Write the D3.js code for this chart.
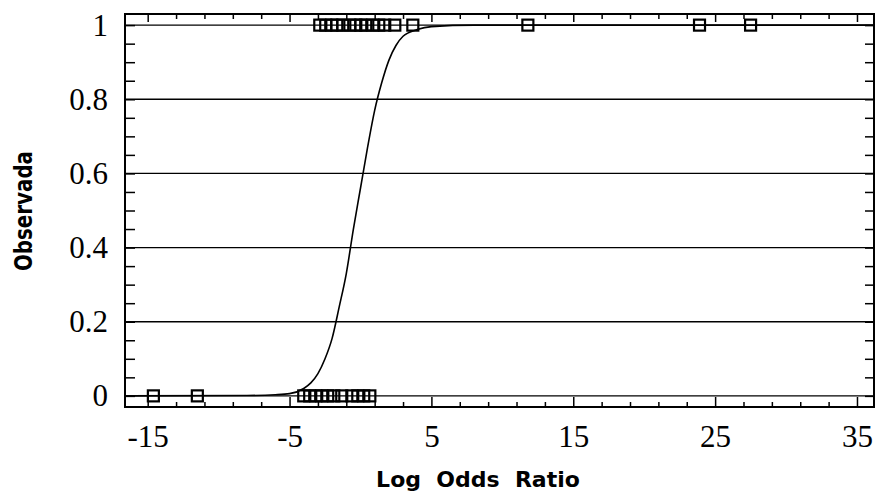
<!DOCTYPE html>
<html>
<head>
  <meta charset="utf-8" />
  <style>
    body { margin: 0; background: #ffffff; }
    svg { display: block; }
  </style>
  <script src="https://cdnjs.cloudflare.com/ajax/libs/d3/7.8.5/d3.min.js"></script>
</head>
<body>
  <div id="chart"></div>
  <script>
    // observed points (log odds ratio, 0/1 outcome)
    var obsOne = [-2.87, -2.45, -2.02, -1.67, -1.25, -0.75, -0.33, 0.02, 0.37, 0.87, 1.29, 1.71, 2.42, 3.69, 11.8, 23.9, 27.5];
    var obsZero = [-14.6, -11.5, -4.0, -3.58, -3.15, -2.73, -2.31, -1.88, -1.32, -0.61, -0.19, 0.23, 0.66];

    // fitted curve
    var curveX = [-16.6, -8, -6, -5, -4, -3.5, -3, -2.5, -2, -1.5, -1, -0.5, 0, 0.5, 1, 1.5, 2, 2.5, 3, 4, 5, 8, 36.2];
    var curveY = [0, 0.001, 0.003, 0.006, 0.02, 0.035, 0.06, 0.1, 0.155, 0.24, 0.33, 0.45, 0.56, 0.67, 0.77, 0.845, 0.905, 0.945, 0.97, 0.988, 0.996, 1, 1];

    var xMajor = [-15, -5, 5, 15, 25, 35];
    var yMajor = [0, 0.2, 0.4, 0.6, 0.8, 1];

    var W = 876, H = 496;
    var pL = 125, pR = 874, pT = 14, pB = 407;

    var x = d3.scaleLinear().domain([-16.6, 36.2]).range([pL, pR]);
    var y = d3.scaleLinear().domain([-0.03, 1.03]).range([pB, pT]);

    var xMinor = d3.range(-15, 36, 2).filter(function (d) { return xMajor.indexOf(d) < 0; });
    var yMinor = d3.range(0, 1.001, 0.05).map(function (d) { return +d.toFixed(2); });

    var svg = d3.select("#chart").append("svg")
      .attr("width", W)
      .attr("height", H);

    // gridlines
    svg.append("g")
      .selectAll("line")
      .data(yMajor)
      .enter()
      .append("line")
      .attr("x1", pL)
      .attr("x2", pR)
      .attr("y1", function (d) { return y(d); })
      .attr("y2", function (d) { return y(d); })
      .attr("stroke", "#000")
      .attr("stroke-width", 1.3);

    // frame
    svg.append("rect")
      .attr("x", pL)
      .attr("y", pT)
      .attr("width", pR - pL)
      .attr("height", pB - pT)
      .attr("fill", "none")
      .attr("stroke", "#000")
      .attr("stroke-width", 2);

    // ticks on all four sides
    function ticks(axis, pos) {
      var g = svg.append("g").attr("transform", pos).call(axis);
      g.select(".domain").remove();
      g.selectAll("line").attr("stroke", "#000").attr("stroke-width", 1.5);
      return g;
    }
    ticks(d3.axisTop(x).tickValues(xMajor).tickSize(10).tickFormat(""), "translate(0," + pB + ")");
    ticks(d3.axisTop(x).tickValues(xMinor).tickSize(5).tickFormat(""), "translate(0," + pB + ")");
    ticks(d3.axisBottom(x).tickValues(xMajor).tickSize(8).tickFormat(""), "translate(0," + pT + ")");
    ticks(d3.axisBottom(x).tickValues(xMinor).tickSize(5).tickFormat(""), "translate(0," + pT + ")");
    ticks(d3.axisRight(y).tickValues(yMinor).tickSize(10).tickFormat(""), "translate(" + pL + ",0)");
    ticks(d3.axisLeft(y).tickValues(yMinor).tickSize(9).tickFormat(""), "translate(" + pR + ",0)");

    // tick labels
    var xl = svg.append("g")
      .attr("transform", "translate(0," + pB + ")")
      .call(d3.axisBottom(x).tickValues(xMajor).tickSize(0).tickPadding(18).tickFormat(d3.format("d")));
    xl.select(".domain").remove();
    xl.selectAll("text")
      .attr("font-family", "'Liberation Serif', serif")
      .attr("font-size", "31px")
      .attr("fill", "#000")
      .text(function (d) { return d < 0 ? "-" + Math.abs(d) : d; });

    var yl = svg.append("g")
      .attr("transform", "translate(" + (pL - 17) + ",0)")
      .call(d3.axisLeft(y).tickValues(yMajor).tickSize(0).tickPadding(0).tickFormat(function (d) { return d === 0 || d === 1 ? d : d3.format(".1f")(d); }));
    yl.select(".domain").remove();
    yl.selectAll("text")
      .attr("font-family", "'Liberation Serif', serif")
      .attr("font-size", "31px")
      .attr("fill", "#000");

    // axis titles
    svg.append("text")
      .attr("x", 478)
      .attr("y", 487)
      .attr("text-anchor", "middle")
      .attr("font-family", "'DejaVu Sans', sans-serif")
      .attr("font-weight", "bold")
      .attr("font-size", "22px")
      .attr("xml:space", "preserve")
      .text("Log  Odds  Ratio");

    svg.append("text")
      .attr("transform", "translate(32,211) rotate(-90)")
      .attr("text-anchor", "middle")
      .attr("font-family", "'DejaVu Sans', sans-serif")
      .attr("font-weight", "bold")
      .attr("font-size", "25px")
      .attr("textLength", 120)
      .attr("lengthAdjust", "spacingAndGlyphs")
      .text("Observada");

    // fitted curve
    var line = d3.line()
      .x(function (d, i) { return x(curveX[i]); })
      .y(function (d) { return y(d); })
      .curve(d3.curveMonotoneX);

    svg.append("path")
      .datum(curveY)
      .attr("d", line)
      .attr("fill", "none")
      .attr("stroke", "#000")
      .attr("stroke-width", 1.6);

    // observed squares
    var s = 11;
    function squares(data, val) {
      svg.append("g")
        .selectAll("rect")
        .data(data)
        .enter()
        .append("rect")
        .attr("x", function (d) { return x(d) - s / 2; })
        .attr("y", y(val) - s / 2)
        .attr("width", s)
        .attr("height", s)
        .attr("fill", "none")
        .attr("stroke", "#000")
        .attr("stroke-width", 2.2);
    }
    squares(obsOne, 1);
    squares(obsZero, 0);
  </script>
</body>
</html>
